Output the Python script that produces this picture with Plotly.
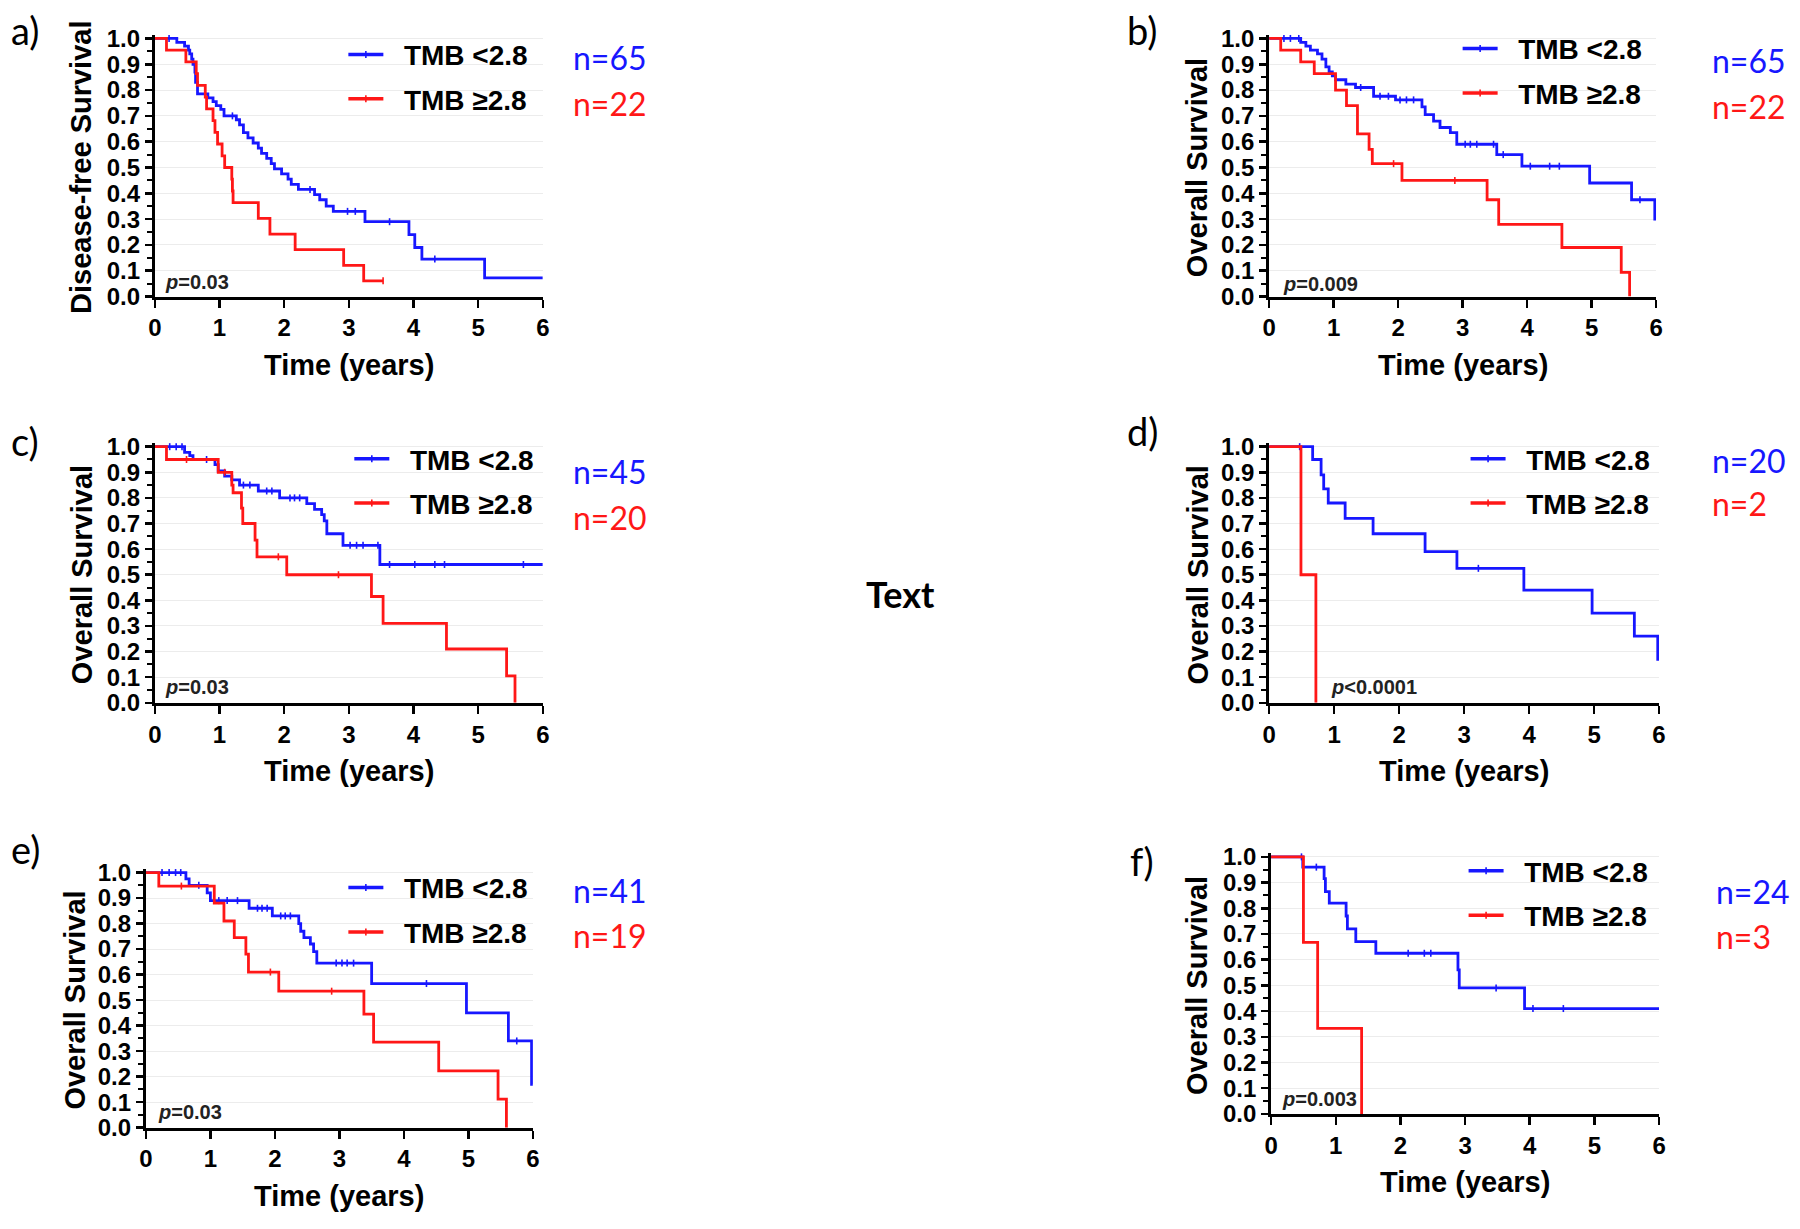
import plotly.graph_objects as go

W, H = 1800, 1229
BLUE = "#1717ff"
RED = "#ff1717"

# ---------------- data (time in years, survival fraction) ----------------
# Panel a - Disease-free survival
a_blue_t = [0.34, 0.46, 0.52, 0.54, 0.57, 0.59, 0.62, 0.63, 0.66, 0.82, 0.90, 0.95, 1.02, 1.07,
            1.26, 1.31, 1.37, 1.44, 1.52, 1.60, 1.65, 1.73, 1.80, 1.85, 1.96, 2.06, 2.11, 2.22,
            2.47, 2.55, 2.65, 2.76, 3.25, 3.93, 4.02, 4.13, 5.10]
a_blue_s = [0.985, 0.97, 0.955, 0.94, 0.92, 0.90, 0.87, 0.83, 0.785, 0.77, 0.755, 0.74, 0.725, 0.70,
            0.685, 0.665, 0.635, 0.615, 0.595, 0.575, 0.555, 0.535, 0.515, 0.495, 0.475, 0.455, 0.435, 0.415,
            0.395, 0.375, 0.35, 0.33, 0.29, 0.24, 0.19, 0.145, 0.072]
a_blue_end = 6.0
a_blue_cens = [0.22, 1.20, 2.40, 2.98, 3.10, 3.63, 4.33]

a_red_t = [0.18, 0.48, 0.64, 0.66, 0.78, 0.80, 0.90, 0.93, 0.97, 1.04, 1.08, 1.19, 1.20, 1.21,
           1.60, 1.78, 2.17, 2.92, 3.23]
a_red_s = [0.955, 0.909, 0.864, 0.818, 0.773, 0.727, 0.682, 0.636, 0.591, 0.545, 0.50, 0.455, 0.409, 0.364,
           0.303, 0.242, 0.182, 0.121, 0.061]
a_red_end = 3.53
a_red_cens = [3.53]

# Panel b - Overall survival
b_blue_t = [0.49, 0.57, 0.64, 0.75, 0.82, 0.88, 0.93, 0.98, 1.03, 1.19, 1.34, 1.62, 1.96, 2.37, 2.42,
            2.55, 2.65, 2.81, 2.91, 3.53, 3.92, 4.97, 5.62, 5.98]
b_blue_s = [0.985, 0.97, 0.955, 0.94, 0.92, 0.89, 0.87, 0.855, 0.84, 0.823, 0.81, 0.776, 0.762, 0.735, 0.705,
            0.68, 0.655, 0.635, 0.59, 0.55, 0.505, 0.44, 0.375, 0.30]
b_blue_end = 6.0
b_blue_cens = [0.23, 0.33, 0.46, 1.42, 1.72, 1.85, 2.03, 2.13, 2.24, 3.04, 3.12, 3.22, 3.48, 3.63,
               4.05, 4.35, 4.50, 5.75]

b_red_t = [0.18, 0.49, 0.70, 1.03, 1.20, 1.37, 1.55, 1.60, 2.06, 3.38, 3.56, 4.54, 5.46, 5.59]
b_red_s = [0.955, 0.909, 0.864, 0.80, 0.74, 0.63, 0.57, 0.515, 0.45, 0.375, 0.28, 0.19, 0.094, 0.0]
b_red_end = 5.59
b_red_cens = [1.93, 2.88]

# Panel c
c_blue_t = [0.46, 0.54, 0.59, 0.93, 0.98, 1.08, 1.19, 1.31, 1.60, 1.93, 2.35, 2.47, 2.58, 2.62,
            2.66, 2.91, 3.48]
c_blue_s = [0.978, 0.965, 0.95, 0.93, 0.905, 0.885, 0.87, 0.85, 0.827, 0.80, 0.778, 0.755, 0.735, 0.71,
            0.66, 0.615, 0.54]
c_blue_end = 6.0
c_blue_cens = [0.23, 0.33, 0.42, 0.80, 1.37, 1.47, 1.73, 1.81, 2.09, 2.16, 2.24, 3.02, 3.12, 3.22,
               3.45, 3.63, 4.02, 4.33, 4.48, 5.70]

c_red_t = [0.18, 0.98, 1.19, 1.21, 1.34, 1.36, 1.55, 1.58, 2.04, 3.35, 3.53, 4.51, 5.44, 5.57]
c_red_s = [0.95, 0.90, 0.85, 0.82, 0.76, 0.70, 0.635, 0.57, 0.50, 0.415, 0.31, 0.21, 0.105, 0.0]
c_red_end = 5.57
c_red_cens = [0.49, 1.08, 1.91, 2.84]

# Panel d
d_blue_t = [0.67, 0.80, 0.84, 0.91, 1.17, 1.60, 2.40, 2.89, 3.92, 4.97, 5.62, 5.98]
d_blue_s = [0.95, 0.89, 0.835, 0.78, 0.72, 0.66, 0.59, 0.525, 0.44, 0.35, 0.26, 0.17]
d_blue_end = 6.0
d_blue_cens = [0.47, 3.22]

d_red_t = [0.49, 0.72]
d_red_s = [0.5, 0.0]
d_red_end = 0.72
d_red_cens = []

# Panel e
e_blue_t = [0.62, 0.67, 0.95, 1.00, 1.60, 1.96, 2.37, 2.40, 2.45, 2.55, 2.60, 2.65, 3.50, 4.97, 5.62, 5.98]
e_blue_s = [0.975, 0.95, 0.92, 0.89, 0.86, 0.83, 0.80, 0.77, 0.745, 0.72, 0.69, 0.645, 0.565, 0.45, 0.34, 0.17]
e_blue_end = 6.0
e_blue_cens = [0.25, 0.36, 0.46, 0.54, 0.82, 1.13, 1.26, 1.42, 1.73, 1.80, 1.88, 2.09, 2.16, 2.24,
               2.95, 3.04, 3.12, 3.22, 4.35, 5.75]

e_red_t = [0.20, 1.06, 1.21, 1.37, 1.55, 1.59, 2.06, 3.38, 3.53, 4.54, 5.46, 5.59]
e_red_s = [0.947, 0.88, 0.81, 0.745, 0.68, 0.61, 0.535, 0.445, 0.335, 0.223, 0.112, 0.0]
e_red_end = 5.59
e_red_cens = [0.55, 1.93, 2.88]

# Panel f
f_blue_t = [0.49, 0.82, 0.84, 0.90, 1.16, 1.18, 1.31, 1.62, 2.89, 2.91, 3.92]
f_blue_s = [0.96, 0.915, 0.865, 0.82, 0.77, 0.72, 0.67, 0.625, 0.56, 0.49, 0.41]
f_blue_end = 6.0
f_blue_cens = [0.47, 0.70, 2.12, 2.37, 2.47, 3.48, 4.05, 4.52]

f_red_t = [0.50, 0.72, 1.40]
f_red_s = [0.667, 0.333, 0.0]
f_red_end = 1.40
f_red_cens = []

legend_names = ["TMB <2.8", "TMB \u22652.8"]
panel_letters = ["a)", "b)", "c)", "d)", "e)", "f)"]
y_titles = ["Disease-free Survival", "Overall Survival", "Overall Survival",
            "Overall Survival", "Overall Survival", "Overall Survival"]
x_title = "Time (years)"
n_blue = ["n=65", "n=65", "n=45", "n=20", "n=41", "n=24"]
n_red = ["n=22", "n=22", "n=20", "n=2", "n=19", "n=3"]
p_texts = ["<i>p</i>=0.03", "<i>p</i>=0.009", "<i>p</i>=0.03", "<i>p</i><0.0001",
           "<i>p</i>=0.03", "<i>p</i>=0.003"]
x_ticks = [0, 1, 2, 3, 4, 5, 6]

series = [
    ((a_blue_t, a_blue_s, a_blue_end, a_blue_cens), (a_red_t, a_red_s, a_red_end, a_red_cens)),
    ((b_blue_t, b_blue_s, b_blue_end, b_blue_cens), (b_red_t, b_red_s, b_red_end, b_red_cens)),
    ((c_blue_t, c_blue_s, c_blue_end, c_blue_cens), (c_red_t, c_red_s, c_red_end, c_red_cens)),
    ((d_blue_t, d_blue_s, d_blue_end, d_blue_cens), (d_red_t, d_red_s, d_red_end, d_red_cens)),
    ((e_blue_t, e_blue_s, e_blue_end, e_blue_cens), (e_red_t, e_red_s, e_red_end, e_red_cens)),
    ((f_blue_t, f_blue_s, f_blue_end, f_blue_cens), (f_red_t, f_red_s, f_red_end, f_red_cens)),
]

# ---------------- layout geometry (pixels) ----------------
geom = [
    dict(x0=149, x6=540, y1=29, y0=292, ytx=75, xty=362, leg_x=348, leg_y=68, n_x=568, n_y=(48, 95),
         letter=(2, 20), p=(0.13, 0.057)),
    dict(x0=1272, x6=1662, y1=29, y0=292, ytx=1200, xty=362, leg_x=1471, leg_y=62, n_x=1716, n_y=(51, 98),
         letter=(1127, 20), p=(0.18, 0.05)),
    dict(x0=149, x6=540, y1=445, y0=706, ytx=75, xty=776, leg_x=354, leg_y=480, n_x=568, n_y=(470, 517),
         letter=(2, 439), p=(0.13, 0.06)),
    dict(x0=1272, x6=1665, y1=445, y0=706, ytx=1200, xty=776, leg_x=1479, leg_y=480, n_x=1716, n_y=(459, 503),
         letter=(1127, 429), p=(0.92, 0.06)),
    dict(x0=140, x6=530, y1=879, y0=1139, ytx=69, xty=1209, leg_x=348, leg_y=917, n_x=568, n_y=(897, 943),
         letter=(2, 855), p=(0.15, 0.06)),
    dict(x0=1274, x6=1665, y1=863, y0=1125, ytx=1200, xty=1194, leg_x=1477, leg_y=900, n_x=1720, n_y=(898, 944),
         letter=(1130, 867), p=(0.13, 0.06)),
]
YMAX = 1.015
NB = "\u00a0\u00a0"

TICKFONT = dict(family="Liberation Sans, Arial", size=24, color="black", weight="bold")
TITLEFONT = dict(family="Liberation Sans, Arial", size=29, color="black", weight="bold")
LEGFONT = dict(family="Liberation Sans, Arial", size=28, color="black", weight="bold")


def px(x):
    return x / W


def py(y):
    return 1 - y / H


def step_xy(t, s, end):
    xs = [0.0] + list(t) + [end]
    ys = [1.0] + list(s) + [s[-1] if s else 1.0]
    return xs, ys


def surv_at(t, s, when):
    val = 1.0
    for ti, si in zip(t, s):
        if ti <= when:
            val = si
    return val


fig = go.Figure()
layout = dict(width=W, height=H, margin=dict(l=0, r=0, t=0, b=0),
              paper_bgcolor="white", plot_bgcolor="white", annotations=[])

for i, (g, ser) in enumerate(zip(geom, series)):
    k = "" if i == 0 else str(i + 1)
    xa, ya = "x" + k, "y" + k
    lg = "legend" + k
    for j, ((t, s, end, cens), color) in enumerate(zip(ser, [BLUE, RED])):
        xs, ys = step_xy(t, s, end)
        fig.add_trace(go.Scatter(x=xs, y=ys, mode="lines", line=dict(color=color, width=2.8, shape="hv"),
                                 xaxis=xa, yaxis=ya, showlegend=False, hoverinfo="skip"))
        if cens:
            fig.add_trace(go.Scatter(x=cens, y=[surv_at(t, s, c) for c in cens], mode="markers",
                                     marker=dict(symbol="line-ns", size=5, line=dict(color=color, width=1.6)),
                                     xaxis=xa, yaxis=ya, showlegend=False, hoverinfo="skip", cliponaxis=False))
        fig.add_trace(go.Scatter(x=[None], y=[None], mode="lines+markers", name=NB + legend_names[j],
                                 line=dict(color=color, width=3.5),
                                 marker=dict(symbol="line-ns", size=5, line=dict(color=color, width=1.6)),
                                 xaxis=xa, yaxis=ya, legend=lg, legendgroup=f"{i}-{j}", showlegend=True))

    ybot = g["y0"]
    ytop = g["y0"] - YMAX * (g["y0"] - g["y1"])
    layout["xaxis" + k] = dict(domain=[px(g["x0"]), px(g["x6"])], range=[0, 6], anchor=ya,
                               tickvals=x_ticks, ticks="outside", ticklen=8, tickwidth=2.5, tickcolor="black",
                               showline=True, linecolor="black", linewidth=3, showgrid=False, zeroline=False,
                               tickfont=TICKFONT, fixedrange=True)
    layout["yaxis" + k] = dict(domain=[py(ybot), py(ytop)], range=[0, YMAX], anchor=xa,
                               tickvals=[v / 10 for v in range(11)], tickformat=".1f",
                               ticks="outside", ticklen=7, tickwidth=2.5, tickcolor="black",
                               minor=dict(tickvals=[v / 20 for v in range(1, 20, 2)], ticks="outside",
                                          ticklen=5, tickwidth=2, tickcolor="black", showgrid=False),
                               showline=True, linecolor="black", linewidth=3,
                               showgrid=True, gridcolor="#ececec", gridwidth=1, zeroline=False,
                               tickfont=TICKFONT, fixedrange=True)
    layout[lg] = dict(x=px(g["leg_x"] - 9), y=py(g["leg_y"]), xanchor="left", yanchor="middle",
                      font=LEGFONT, itemwidth=35, traceorder="grouped", tracegroupgap=5,
                      bgcolor="rgba(0,0,0,0)", borderwidth=0)

    ann = layout["annotations"]
    ann.append(dict(text=panel_letters[i], x=px(g["letter"][0]), y=py(g["letter"][1]), xref="paper", yref="paper",
                    xanchor="left", yanchor="middle", showarrow=False,
                    font=dict(family="Lato", size=38, color="black")))
    ann.append(dict(text=y_titles[i], x=px(g["ytx"]), y=py((g["y0"] + g["y1"]) / 2), xref="paper", yref="paper",
                    xanchor="center", yanchor="middle", textangle=-90, showarrow=False, font=TITLEFONT))
    ann.append(dict(text=x_title, x=px((g["x0"] + g["x6"]) / 2), y=py(g["xty"]), xref="paper", yref="paper",
                    xanchor="center", yanchor="middle", showarrow=False, font=TITLEFONT))
    ann.append(dict(text=p_texts[i], x=g["p"][0], y=g["p"][1], xref=xa, yref=ya,
                    xanchor="left", yanchor="middle", showarrow=False,
                    font=dict(family="Liberation Sans, Arial", size=20, color="#222222", weight="bold")))
    ann.append(dict(text=n_blue[i], x=px(g["n_x"]), y=py(g["n_y"][0]), xref="paper", yref="paper",
                    xanchor="left", yanchor="middle", showarrow=False,
                    font=dict(family="Lato", size=32, color=BLUE)))
    ann.append(dict(text=n_red[i], x=px(g["n_x"]), y=py(g["n_y"][1]), xref="paper", yref="paper",
                    xanchor="left", yanchor="middle", showarrow=False,
                    font=dict(family="Lato", size=32, color=RED)))

layout["annotations"].append(dict(text="Text", x=px(901), y=py(595), xref="paper", yref="paper",
                                  xanchor="center", yanchor="middle", showarrow=False,
                                  font=dict(family="Lato", size=36, color="black", weight="bold")))

fig.update_layout(**layout)
fig.write_html("out.html", config={"displayModeBar": False, "staticPlot": True},
               post_script="document.body.style.margin='0px';document.body.style.overflow='hidden';")
